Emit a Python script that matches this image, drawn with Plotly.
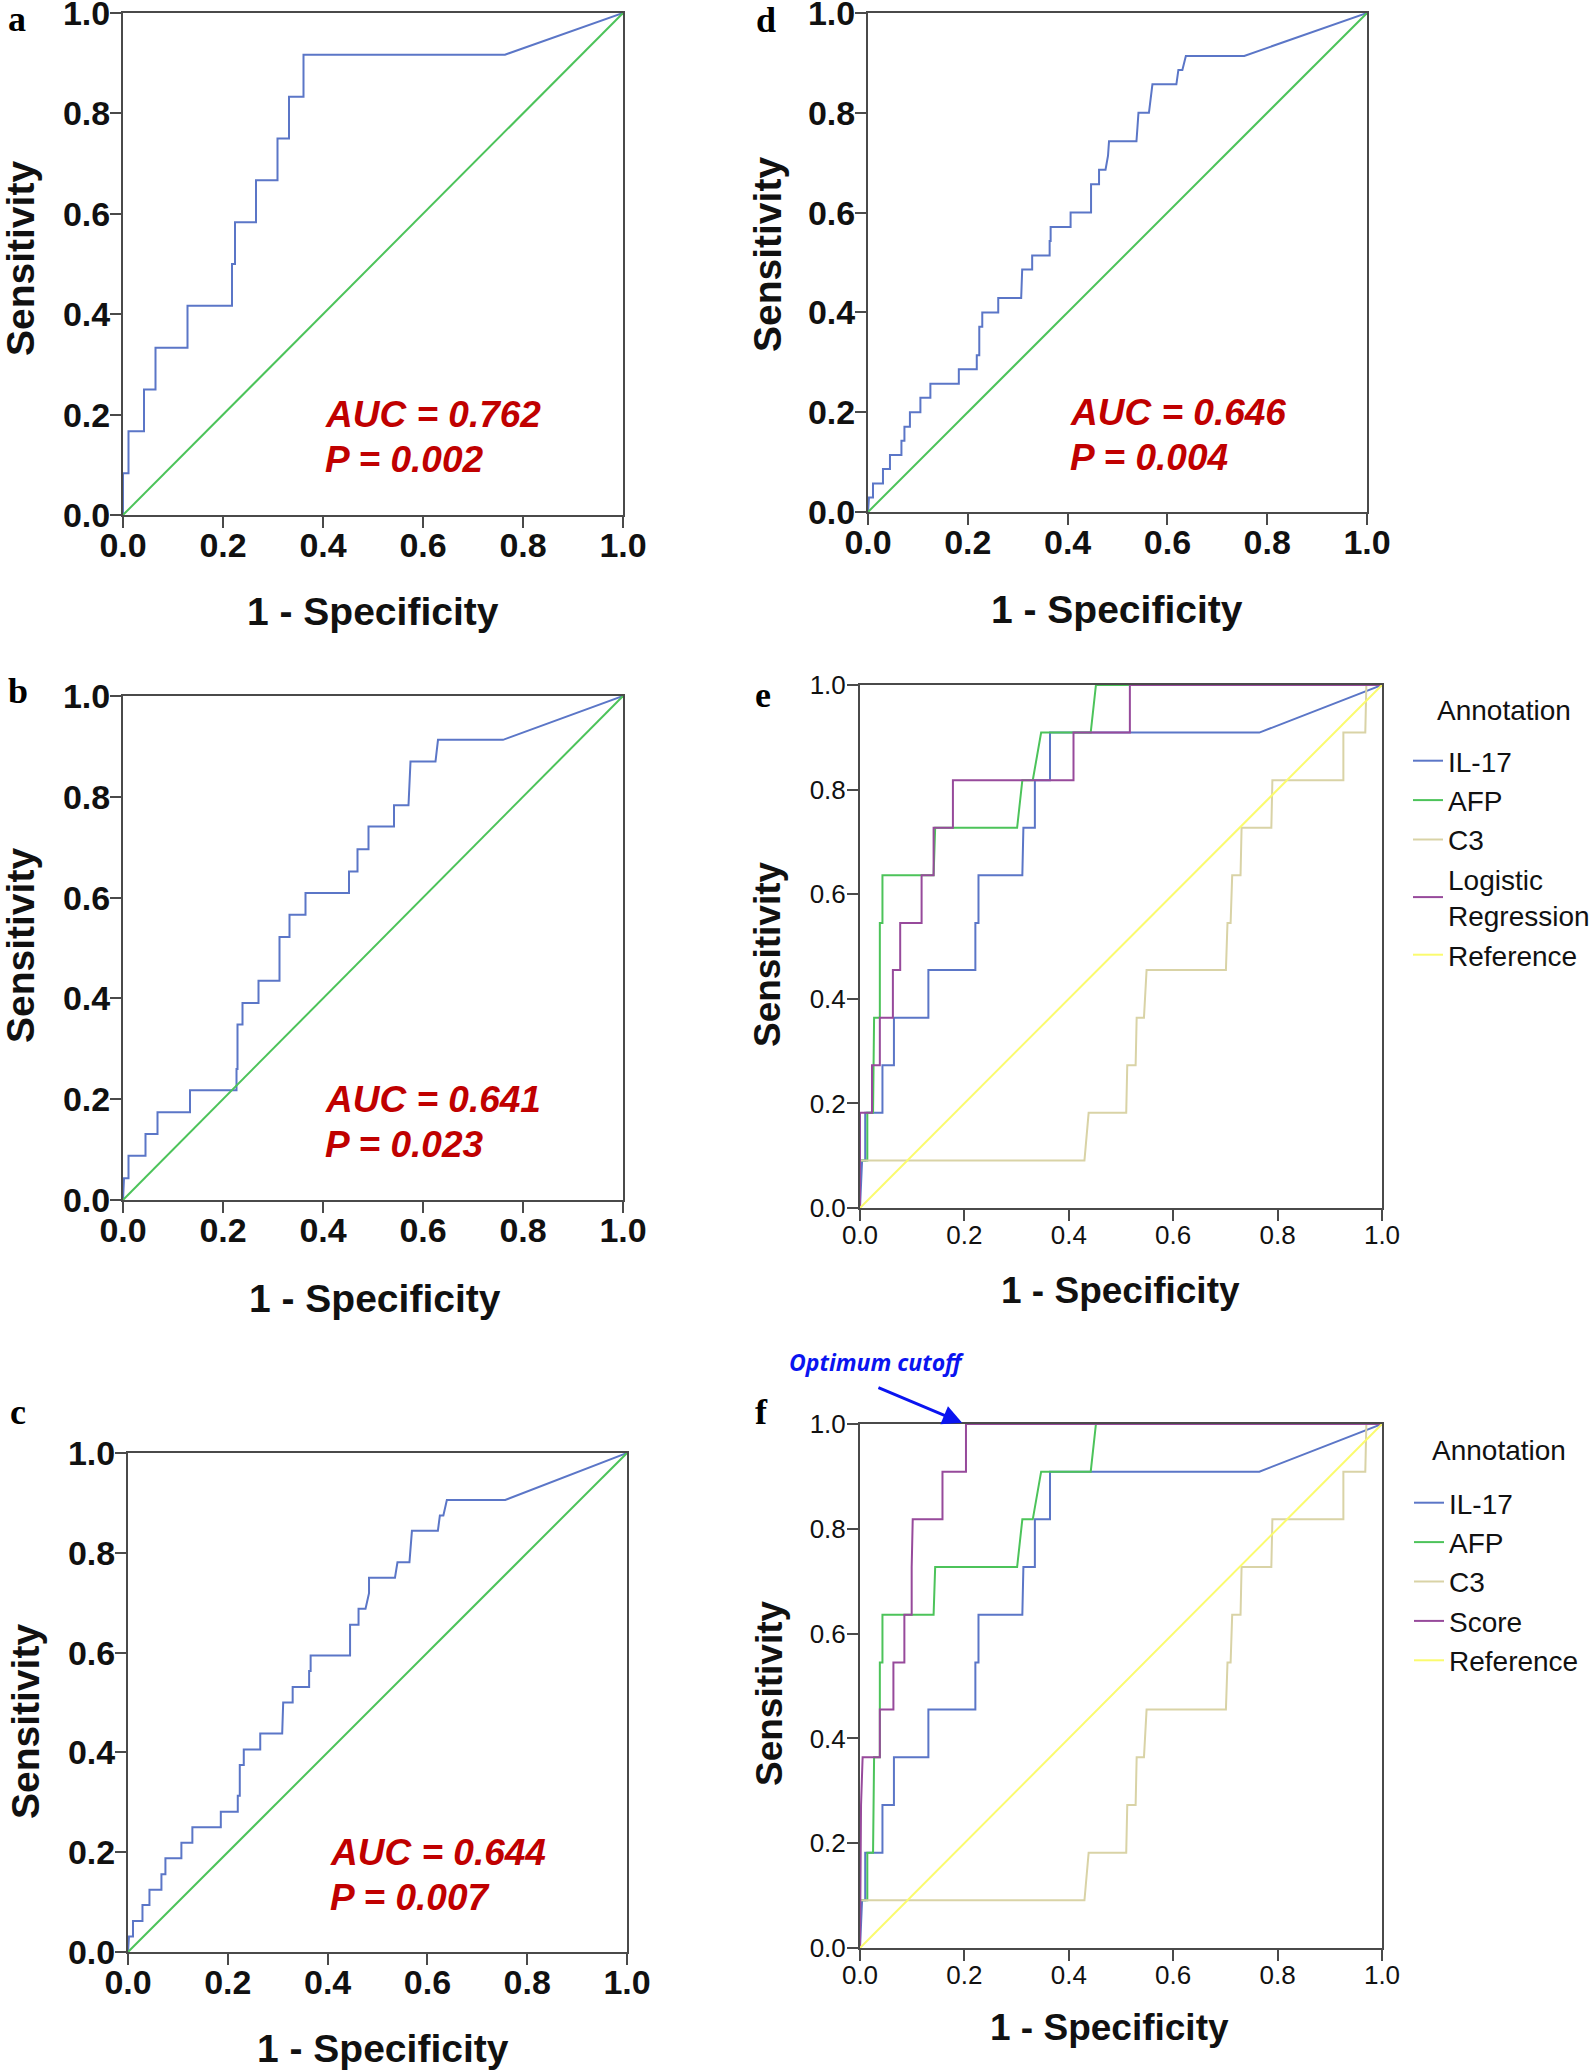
import plotly.graph_objects as go

W, H = 1594, 2071

_BLUE = "#5b76c7"
_GREEN = "#4cc35a"
_TAN = "#d9d3a6"
_PURPLE = "#974a9b"
_YELLOW = "#fbfb6e"
_RED = "#c00000"
_FRAME = "#4a4a4a"
_TEXT = "#111111"

TICK_VALUES = [0.0, 0.2, 0.4, 0.6, 0.8, 1.0]
TICK_LABELS = ["0.0", "0.2", "0.4", "0.6", "0.8", "1.0"]
DIAG = [0.0, 1.0]

# panel a - IL-17 (single marker)
A_FPR = [0, 0, 0.011, 0.011, 0.042, 0.042, 0.065, 0.065, 0.129, 0.129, 0.218, 0.218,
         0.224, 0.224, 0.266, 0.266, 0.309, 0.309, 0.332, 0.332, 0.361, 0.361, 0.764, 1.0]
A_TPR = [0, 0.083, 0.083, 0.167, 0.167, 0.25, 0.25, 0.333, 0.333, 0.417, 0.417, 0.5,
         0.5, 0.583, 0.583, 0.667, 0.667, 0.75, 0.75, 0.833, 0.833, 0.917, 0.917, 1.0]

# panel b
B_FPR = [0, 0.002, 0.011, 0.011, 0.045, 0.045, 0.069, 0.069, 0.134, 0.134,
         0.227, 0.227, 0.229, 0.229, 0.239, 0.239, 0.271, 0.271, 0.313, 0.313,
         0.333, 0.333, 0.365, 0.365, 0.452, 0.452, 0.469, 0.469, 0.491, 0.491,
         0.542, 0.542, 0.571, 0.575, 0.625, 0.630, 0.760, 1.0]
B_TPR = [0, 0.043, 0.043, 0.088, 0.088, 0.131, 0.131, 0.174, 0.174, 0.218,
         0.218, 0.26, 0.26, 0.348, 0.348, 0.391, 0.391, 0.435, 0.435, 0.522,
         0.522, 0.566, 0.566, 0.609, 0.609, 0.652, 0.652, 0.696, 0.696, 0.741,
         0.741, 0.783, 0.783, 0.87, 0.87, 0.913, 0.913, 1.0]

# panel c
C_FPR = [0, 0.002, 0.010, 0.010, 0.029, 0.029, 0.043, 0.043, 0.067, 0.067, 0.075, 0.075,
         0.107, 0.107, 0.129, 0.129, 0.186, 0.186, 0.220, 0.220, 0.224, 0.224, 0.232, 0.232,
         0.265, 0.265, 0.309, 0.311, 0.330, 0.330, 0.363, 0.363, 0.366, 0.366, 0.445, 0.445,
         0.462, 0.462, 0.476, 0.483, 0.483, 0.535, 0.540, 0.564, 0.569, 0.621, 0.625, 0.632,
         0.639, 0.756, 1.0]
C_TPR = [0, 0.031, 0.031, 0.062, 0.062, 0.094, 0.094, 0.125, 0.125, 0.156, 0.156, 0.188,
         0.188, 0.219, 0.219, 0.25, 0.25, 0.281, 0.281, 0.313, 0.313, 0.375, 0.375, 0.406,
         0.406, 0.438, 0.438, 0.5, 0.5, 0.531, 0.531, 0.563, 0.563, 0.594, 0.594, 0.656,
         0.656, 0.688, 0.688, 0.719, 0.75, 0.75, 0.781, 0.781, 0.844, 0.844, 0.875, 0.875,
         0.906, 0.906, 1.0]

# panel d
D_FPR = [0, 0.002, 0.010, 0.010, 0.030, 0.030, 0.044, 0.044, 0.067, 0.067, 0.073, 0.073,
         0.084, 0.084, 0.105, 0.105, 0.125, 0.125, 0.182, 0.182, 0.218, 0.218, 0.223, 0.223,
         0.229, 0.229, 0.261, 0.261, 0.307, 0.309, 0.329, 0.329, 0.364, 0.364, 0.366, 0.366,
         0.406, 0.406, 0.447, 0.447, 0.463, 0.463, 0.476, 0.481, 0.483, 0.538, 0.540, 0.542,
         0.563, 0.570, 0.618, 0.622, 0.630, 0.637, 0.754, 1.0]
D_TPR = [0, 0.029, 0.029, 0.057, 0.057, 0.086, 0.086, 0.114, 0.114, 0.143, 0.143, 0.171,
         0.171, 0.2, 0.2, 0.229, 0.229, 0.257, 0.257, 0.286, 0.286, 0.314, 0.314, 0.371,
         0.371, 0.4, 0.4, 0.429, 0.429, 0.486, 0.486, 0.514, 0.514, 0.543, 0.543, 0.571,
         0.571, 0.6, 0.6, 0.657, 0.657, 0.686, 0.686, 0.714, 0.743, 0.743, 0.771, 0.8,
         0.8, 0.857, 0.857, 0.886, 0.886, 0.914, 0.914, 1.0]

# panels e / f - combined markers
IL17_FPR = [0, 0.004, 0.010, 0.010, 0.043, 0.043, 0.065, 0.065, 0.131, 0.131, 0.221,
            0.221, 0.227, 0.227, 0.311, 0.313, 0.335, 0.335, 0.364, 0.364, 0.765, 1.0]
IL17_TPR = [0, 0.091, 0.091, 0.182, 0.182, 0.273, 0.273, 0.364, 0.364, 0.455, 0.455,
            0.545, 0.545, 0.636, 0.636, 0.727, 0.727, 0.818, 0.818, 0.909, 0.909, 1.0]

AFP_FPR = [0, 0, 0.014, 0.014, 0.025, 0.027, 0.038, 0.038, 0.043, 0.043, 0.141,
           0.144, 0.301, 0.311, 0.331, 0.347, 0.442, 0.452, 1.0]
AFP_TPR = [0, 0.091, 0.091, 0.182, 0.182, 0.364, 0.364, 0.545, 0.545, 0.636, 0.636,
           0.727, 0.727, 0.818, 0.818, 0.909, 0.909, 1.0, 1.0]

C3_FPR = [0, 0, 0.430, 0.438, 0.510, 0.512, 0.528, 0.530, 0.544, 0.549, 0.701, 0.704,
          0.710, 0.713, 0.729, 0.731, 0.788, 0.790, 0.926, 0.926, 0.968, 0.970, 1.0]
C3_TPR = [0, 0.091, 0.091, 0.182, 0.182, 0.273, 0.273, 0.364, 0.364, 0.455, 0.455, 0.545,
          0.545, 0.636, 0.636, 0.727, 0.727, 0.818, 0.818, 0.909, 0.909, 1.0, 1.0]

LOGREG_FPR = [0, 0, 0.023, 0.023, 0.038, 0.038, 0.063, 0.063, 0.077, 0.077, 0.118,
              0.118, 0.141, 0.141, 0.178, 0.178, 0.409, 0.409, 0.517, 0.517, 1.0]
LOGREG_TPR = [0, 0.182, 0.182, 0.273, 0.273, 0.364, 0.364, 0.455, 0.455, 0.545, 0.545,
              0.636, 0.636, 0.727, 0.727, 0.818, 0.818, 0.909, 0.909, 1.0, 1.0]

SCORE_FPR = [0, 0.002, 0.005, 0.038, 0.038, 0.064, 0.064, 0.085, 0.085, 0.099, 0.099,
             0.101, 0.158, 0.158, 0.203, 0.203, 1.0]
SCORE_TPR = [0, 0.273, 0.364, 0.364, 0.455, 0.455, 0.545, 0.545, 0.636, 0.636, 0.727,
             0.818, 0.818, 0.909, 0.909, 1.0, 1.0]

AUC_LABELS = {"a": "AUC = 0.762", "b": "AUC = 0.641", "c": "AUC = 0.644", "d": "AUC = 0.646"}
P_LABELS = {"a": "P = 0.002", "b": "P = 0.023", "c": "P = 0.007", "d": "P = 0.004"}

NAMES_E = ["IL-17", "AFP", "C3", "Logistic<br>Regression", "Reference"]
NAMES_F = ["IL-17", "AFP", "C3", "Score", "Reference"]

# plot boxes in pixels: left, top, right, bottom
BOXES = {
    "a": (123, 13, 623, 515),
    "b": (123, 696, 623, 1200),
    "c": (128, 1453, 627, 1952),
    "d": (868, 13, 1367, 512),
    "e": (860, 685, 1382, 1208),
    "f": (860, 1424, 1382, 1948),
}
AXIS_ID = {"a": "", "b": "2", "c": "3", "d": "4", "e": "5", "f": "6"}
XTITLE_POS = {"a": (373, 611), "b": (375, 1298), "c": (383, 2048),
              "d": (1117, 610), "e": (1120, 1290), "f": (1109, 2027)}
YTITLE_POS = {"a": (20, 259), "b": (20, 946), "c": (25, 1722),
              "d": (767, 255), "e": (767, 955), "f": (769, 1694)}
LETTER_POS = {"a": (17, 19), "b": (18, 691), "c": (18, 1412),
              "d": (766, 20), "e": (763, 695), "f": (761, 1412)}


def px(x):
    return x / W


def py(y):
    return 1 - y / H


fig = go.Figure()


def add_line(panel, xs, ys, color, name=None, legend=None):
    k = AXIS_ID[panel]
    fig.add_trace(
        go.Scatter(
            x=xs,
            y=ys,
            mode="lines",
            name=name,
            line=dict(color=color, width=2),
            xaxis="x" + k,
            yaxis="y" + k,
            showlegend=legend is not None,
            legend=legend,
            hoverinfo="skip",
        )
    )


single = {"a": (A_FPR, A_TPR), "b": (B_FPR, B_TPR), "c": (C_FPR, C_TPR), "d": (D_FPR, D_TPR)}
for p, (xs, ys) in single.items():
    add_line(p, xs, ys, _BLUE)
    add_line(p, DIAG, DIAG, _GREEN)

for p, names, last, leg in [
    ("e", NAMES_E, (LOGREG_FPR, LOGREG_TPR), "legend"),
    ("f", NAMES_F, (SCORE_FPR, SCORE_TPR), "legend2"),
]:
    add_line(p, IL17_FPR, IL17_TPR, _BLUE, names[0], leg)
    add_line(p, AFP_FPR, AFP_TPR, _GREEN, names[1], leg)
    add_line(p, C3_FPR, C3_TPR, _TAN, names[2], leg)
    add_line(p, last[0], last[1], _PURPLE, names[3], leg)
    add_line(p, DIAG, DIAG, _YELLOW, names[4], leg)

layout = {}
annotations = []
for p, (l, t, r, b) in BOXES.items():
    k = AXIS_ID[p]
    bold = p in "abcd"
    tickfont = dict(
        family="Liberation Sans, Arial, sans-serif",
        size=34 if bold else 26,
        color=_TEXT,
        weight="bold" if bold else "normal",
    )
    common = dict(
        range=[0, 1],
        tickvals=TICK_VALUES,
        ticktext=TICK_LABELS,
        ticks="outside",
        ticklen=11,
        tickwidth=2,
        tickcolor=_FRAME,
        showline=True,
        linecolor=_FRAME,
        linewidth=2,
        mirror=True,
        showgrid=False,
        zeroline=False,
        tickfont=tickfont,
        fixedrange=True,
        automargin=False,
        ticklabeloverflow="allow",
    )
    layout["xaxis" + k] = dict(domain=[px(l), px(r)], anchor="y" + k,
                               ticklabelstandoff=-12 if bold else -8, **common)
    layout["yaxis" + k] = dict(domain=[py(b), py(t)], anchor="x" + k,
                               ticklabelstandoff=-7 if bold else -4, **common)

    title_font = dict(family="Liberation Sans, Arial, sans-serif", size=39 if bold else 37,
                      color=_TEXT, weight="bold")
    xt, yt = XTITLE_POS[p]
    annotations.append(dict(text="1 - Specificity", x=px(xt), y=py(yt), xref="paper",
                            yref="paper", showarrow=False, font=title_font,
                            xanchor="center", yanchor="middle"))
    xs_, ys_ = YTITLE_POS[p]
    annotations.append(dict(text="Sensitivity", x=px(xs_), y=py(ys_), xref="paper",
                            yref="paper", showarrow=False, font=title_font, textangle=-90,
                            xanchor="center", yanchor="middle"))
    lx, ly = LETTER_POS[p]
    annotations.append(dict(text=p, x=px(lx), y=py(ly), xref="paper", yref="paper",
                            showarrow=False, xanchor="center", yanchor="middle",
                            font=dict(family="Liberation Serif, Times New Roman, serif",
                                      size=36, color="#000000", weight="bold")))

    if p in AUC_LABELS:
        stat_font = dict(family="Liberation Sans, Arial, sans-serif", size=37, color=_RED,
                         weight="bold", style="italic")
        annotations.append(dict(text=AUC_LABELS[p], x=0.40, y=0.2, xref="x" + k,
                                yref="y" + k, showarrow=False, xanchor="left",
                                yanchor="middle", font=stat_font))
        annotations.append(dict(text=P_LABELS[p], x=0.40, y=0.11, xref="x" + k,
                                yref="y" + k, showarrow=False, xanchor="left",
                                yanchor="middle", font=stat_font))

# legend titles
legend_font = dict(family="Liberation Sans, Arial, sans-serif", size=28, color=_TEXT)
annotations.append(dict(text="Annotation", x=px(1504), y=py(710), xref="paper", yref="paper",
                        showarrow=False, font=legend_font, xanchor="center", yanchor="middle"))
annotations.append(dict(text="Annotation", x=px(1499), y=py(1450), xref="paper", yref="paper",
                        showarrow=False, font=legend_font, xanchor="center", yanchor="middle"))

# optimum cutoff arrow (panel f)
annotations.append(dict(text="", x=0.201, y=1.0, xref="x6", yref="y6", ax=-88, ay=-37,
                        showarrow=True, arrowhead=2, arrowsize=1.3, arrowwidth=3,
                        arrowcolor="#0a14f0", standoff=3))
annotations.append(dict(text="Optimum cutoff", x=px(876), y=py(1362), xref="paper",
                        yref="paper", showarrow=False, xanchor="center", yanchor="middle",
                        font=dict(family="Open Sans, sans-serif", size=23, color="#0a14f0",
                                  weight="bold", style="italic")))

legend_base = dict(
    xanchor="left",
    yanchor="top",
    font=legend_font,
    bgcolor="rgba(0,0,0,0)",
    borderwidth=0,
    itemwidth=30,
    tracegroupgap=0,
)

fig.update_layout(
    width=W,
    height=H,
    margin=dict(l=0, r=0, t=0, b=0, autoexpand=False),
    paper_bgcolor="white",
    plot_bgcolor="white",
    annotations=annotations,
    legend=dict(x=px(1408), y=py(736), **legend_base),
    legend2=dict(x=px(1409), y=py(1478), **legend_base),
    **layout,
)

# drop the default 8px page margin so the figure sits flush in the window
fig.write_html(
    "out.html",
    config={"displayModeBar": False},
    post_script="document.body.style.margin = '0px';",
)
